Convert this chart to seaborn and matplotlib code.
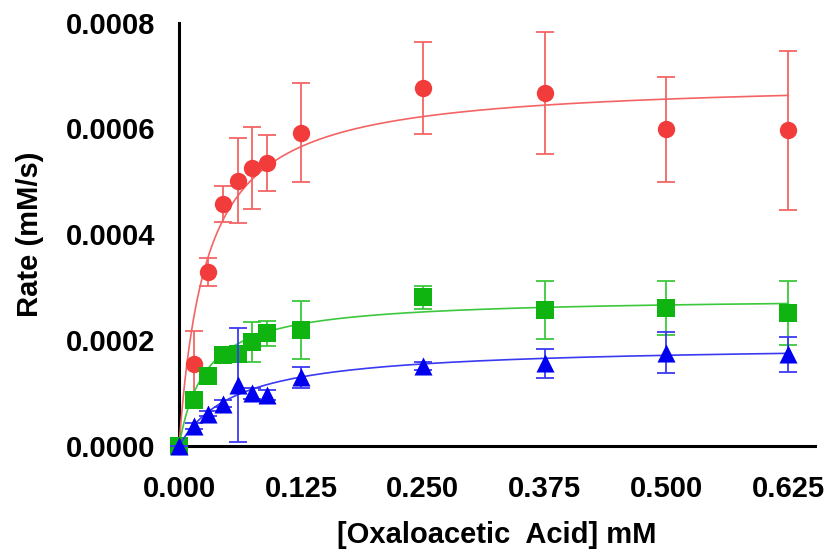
import numpy as np
import pandas as pd
import matplotlib
matplotlib.use("Agg")
import matplotlib.pyplot as plt
import seaborn as sns

# Substrate concentrations (mM)
conc = [0, 0.015, 0.03, 0.045, 0.06, 0.075, 0.09, 0.125, 0.25, 0.375, 0.5, 0.625]

# Initial rates (mM/s) and standard deviations for the three enzyme preparations
red_rate = [0, 0.000155, 0.000329, 0.000457, 0.000501, 0.000525, 0.000535,
            0.000592, 0.000676, 0.000667, 0.000598, 0.000596]
red_sd = [0, 0.000062, 0.000027, 0.000034, 0.000080, 0.000077, 0.000053,
          0.000094, 0.000087, 0.000115, 0.000100, 0.000150]

green_rate = [0, 0.0000866, 0.000133, 0.000171, 0.000174, 0.000196, 0.000213,
              0.000219, 0.000281, 0.000257, 0.000260, 0.000251]
green_sd = [0, 0.000010, 0.000010, 0.000012, 0.000015, 0.000038, 0.000024,
            0.000055, 0.000022, 0.000055, 0.000051, 0.000060]

blue_rate = [0, 0.0000379, 0.0000613, 0.000080, 0.000115, 0.0000992, 0.0000967,
             0.000130, 0.000151, 0.000156, 0.000176, 0.000173]
blue_sd = [0, 0.000005, 0.000005, 0.000006, 0.000107, 0.000010, 0.000010,
           0.000020, 0.000008, 0.000027, 0.000039, 0.000033]

# Michaelis-Menten fit parameters (Vmax in mM/s, Km in mM)
red_fit = (0.000692, 0.028)
green_fit = (0.000281, 0.0274)
blue_fit = (0.0001915, 0.0588)

xticks = [0.0, 0.125, 0.25, 0.375, 0.5, 0.625]
yticks = [0.0, 0.0002, 0.0004, 0.0006, 0.0008]

sns.set_theme(style="white")
plt.rcParams["font.family"] = ["Liberation Sans", "DejaVu Sans"]
plt.rcParams["font.weight"] = "bold"
plt.rcParams["text.color"] = "black"
plt.rcParams["axes.labelcolor"] = "black"

fig = plt.figure(figsize=(8.33, 5.53), dpi=100)
ax = fig.add_axes([0.2149, 0.1935, 0.978 - 0.2149, 0.9593 - 0.1935])

series = [
    ("red", red_rate, red_sd, red_fit, "o", 12.5, "#F23B3B", "#F46464"),
    ("green", green_rate, green_sd, green_fit, "s", 13, "#10B410", "#3CC83C"),
    ("blue", blue_rate, blue_sd, blue_fit, "^", 13, "#0000EE", "#3A3AF2"),
]

s_curve = np.linspace(0, 0.625, 300)
for k, (name, rate, sd, (vmax, km), marker, ms, mcol, lcol) in enumerate(series):
    z = 3 + 3 * k
    curve = pd.DataFrame({"S": s_curve, "v": vmax * s_curve / (km + s_curve)})
    sns.lineplot(data=curve, x="S", y="v", ax=ax, color=lcol, linewidth=1.2,
                 zorder=z)
    ax.errorbar(conc, rate, yerr=sd, fmt="none", ecolor=lcol, elinewidth=1.3,
                capsize=6.5, capthick=1.3, zorder=z + 1, clip_on=False)
    pts = pd.DataFrame({"S": conc, "v": rate})
    sns.scatterplot(data=pts, x="S", y="v", ax=ax, marker=marker, s=ms ** 2,
                    color=mcol, edgecolor=mcol, linewidth=0, zorder=z + 2,
                    clip_on=False, legend=False)

ax.set_xlim(0, 0.652)
ax.set_ylim(0, 0.0008)
ax.set_xticks(xticks)
ax.set_yticks(yticks)
ax.set_xticklabels([f"{t:.3f}" for t in xticks])
ax.set_yticklabels([f"{t:.4f}" for t in yticks])

for side in ("top", "right"):
    ax.spines[side].set_visible(False)
for side in ("left", "bottom"):
    ax.spines[side].set_linewidth(2.2)
    ax.spines[side].set_color("black")

ax.tick_params(axis="both", direction="out", length=12, width=2.2,
               colors="black", labelsize=21)
ax.tick_params(axis="y", pad=5)
ax.tick_params(axis="x", pad=9)
for lbl in ax.get_xticklabels() + ax.get_yticklabels():
    lbl.set_fontweight("bold")

ax.set_xlabel("[Oxaloacetic  Acid] mM", fontsize=21, fontweight="bold",
              color="black", labelpad=13)
ax.set_ylabel("Rate (mM/s)", fontsize=21, fontweight="bold",
              color="black", labelpad=16)

fig.savefig("out.png", dpi=100)
